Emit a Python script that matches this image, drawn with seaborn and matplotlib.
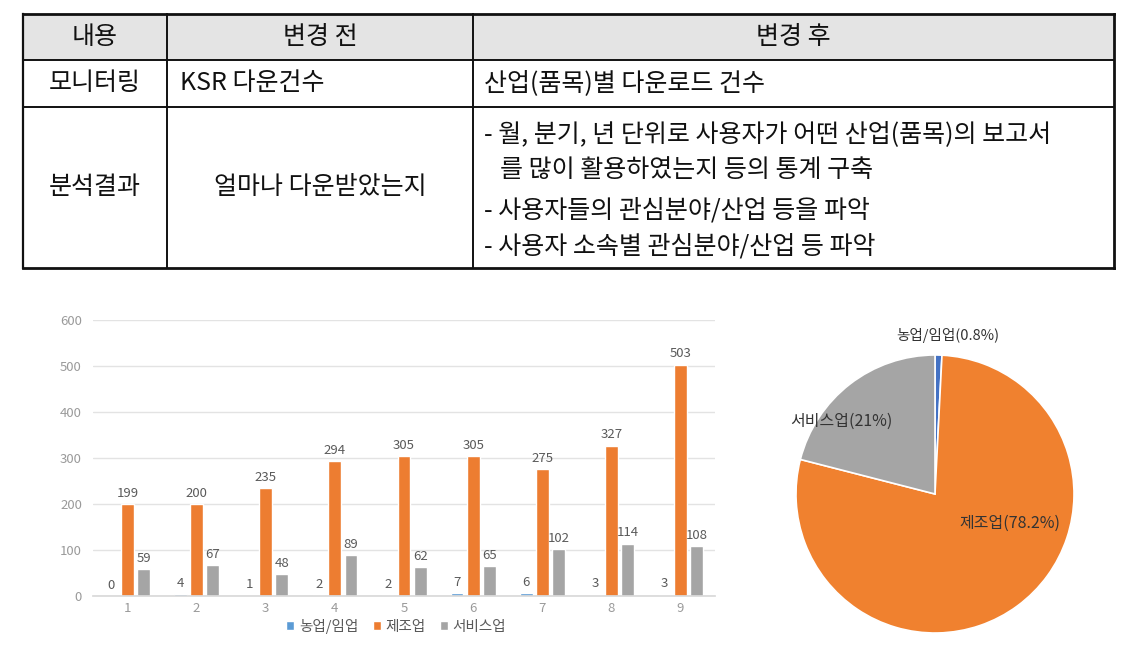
import matplotlib
matplotlib.use('Agg')
import matplotlib.pyplot as plt
import seaborn as sns
import pandas as pd

# ---------------- data ----------------
periods = ['1', '2', '3', '4', '5', '6', '7', '8', '9']
industries = ['농업/임업', '제조업', '서비스업']
agri = [0, 4, 1, 2, 2, 7, 6, 3, 3]
manuf = [199, 200, 235, 294, 305, 305, 275, 327, 503]
serv = [59, 67, 48, 89, 62, 65, 102, 114, 108]

pie_names = ['농업/임업', '제조업', '서비스업']
pie_shares = [0.8, 78.2, 21.0]
pie_texts = ['농업/임업(0.8%)', '제조업(78.2%)', '서비스업(21%)']

table_header = ['내용', '변경 전', '변경 후']
row1 = ['모니터링', 'KSR 다운건수', '산업(품목)별 다운로드 건수']
row2_label = '분석결과'
row2_before = '얼마나 다운받았는지'
row2_after = ['- 월, 분기, 년 단위로 사용자가 어떤 산업(품목)의 보고서',
              '를 많이 활용하였는지 등의 통계 구축',
              '- 사용자들의 관심분야/산업 등을 파악',
              '- 사용자 소속별 관심분야/산업 등 파악']

bar_colors = ['#5B9BD5', '#ED7D31', '#A5A5A5']
pie_colors = ['#4472C4', '#F0812F', '#A5A5A5']

sns.set_theme(style='white')
FONT = ['Noto Sans CJK KR', 'DejaVu Sans']
plt.rcParams['font.family'] = FONT

W, H = 1124, 647
fig = plt.figure(figsize=(W / 100, H / 100), dpi=100)
fig.patch.set_facecolor('white')

# ---------------- table (pixel coordinates) ----------------
tax = fig.add_axes([0, 0, 1, 1])
tax.set_xlim(0, W)
tax.set_ylim(H, 0)
tax.axis('off')

xL, xC1, xC2, xR = 23, 167, 473, 1114
yT, yR1, yR2, yB = 14, 60, 107, 268
tax.add_patch(plt.Rectangle((xL, yT), xR - xL, yR1 - yT, facecolor='#e4e4e4',
                            edgecolor='none', zorder=0))
lc = '#111111'
for y, lw in [(yT, 2.0), (yR1, 1.4), (yR2, 1.4), (yB, 2.0)]:
    tax.plot([xL, xR], [y, y], color=lc, lw=lw, solid_capstyle='projecting')
for x, lw in [(xL, 1.6), (xC1, 1.4), (xC2, 1.4), (xR, 2.0)]:
    tax.plot([x, x], [yT, yB], color=lc, lw=lw, solid_capstyle='projecting')

tfs = 18
tcol = '#111111'
hy = (yT + yR1) / 2
tax.text((xL + xC1) / 2, hy, table_header[0], ha='center', va='center', fontsize=tfs, color=tcol)
tax.text((xC1 + xC2) / 2, hy, table_header[1], ha='center', va='center', fontsize=tfs, color=tcol)
tax.text((xC2 + xR) / 2, hy, table_header[2], ha='center', va='center', fontsize=tfs, color=tcol)
r1y = (yR1 + yR2) / 2
tax.text((xL + xC1) / 2, r1y, row1[0], ha='center', va='center', fontsize=tfs, color=tcol)
tax.text(180, r1y, row1[1], ha='left', va='center', fontsize=tfs, color=tcol)
tax.text(484, r1y, row1[2], ha='left', va='center', fontsize=tfs, color=tcol)
r2y = (yR2 + yB) / 2
tax.text((xL + xC1) / 2, r2y, row2_label, ha='center', va='center', fontsize=tfs, color=tcol)
tax.text((xC1 + xC2) / 2, r2y, row2_before, ha='center', va='center', fontsize=tfs, color=tcol)
line_y = [134, 170, 210, 247]
line_x = [484, 500, 484, 484]
for txt, yy, xx in zip(row2_after, line_y, line_x):
    tax.text(xx, yy, txt, ha='left', va='center', fontsize=tfs, color=tcol)

# ---------------- bar chart ----------------
df = pd.DataFrame({
    'period': periods * 3,
    'industry': [industries[0]] * 9 + [industries[1]] * 9 + [industries[2]] * 9,
    'count': agri + manuf + serv,
})
bx0, bx1, by0, by1 = 93, 715, 596, 320
bax = fig.add_axes([bx0 / W, (H - by0) / H, (bx1 - bx0) / W, (by0 - by1) / H])
sns.barplot(data=df, x='period', y='count', hue='industry', hue_order=industries,
            order=periods, palette=bar_colors, width=0.7, gap=0.2, ax=bax,
            saturation=1, legend=True, errorbar=None)
bax.set_ylim(0, 600)
bax.set_xlim(-0.5, 8.5)
bax.set_yticks([0, 100, 200, 300, 400, 500, 600])
bax.grid(axis='y', color='#e3e3e3', lw=1)
bax.set_axisbelow(True)
for s in ['top', 'right', 'left']:
    bax.spines[s].set_visible(False)
bax.spines['bottom'].set_color('#d9d9d9')
bax.set_xlabel('')
bax.set_ylabel('')
bax.tick_params(axis='both', length=0, labelsize=9.5, labelcolor='#9a9a9a')
bax.tick_params(axis='y', pad=8)
bax.tick_params(axis='x', pad=4)
for cont in bax.containers:
    bax.bar_label(cont, fontsize=9.5, color='#5a5a5a', padding=3)
handles, labels = bax.get_legend_handles_labels()
bax.legend_.remove()
fig.legend(handles, labels, loc='center', bbox_to_anchor=(396 / W, (H - 626) / H),
           ncol=3, frameon=False, fontsize=10.5, handlelength=0.55, handleheight=0.55,
           handletextpad=0.3, columnspacing=1.0, labelcolor='#595959')

# ---------------- pie chart ----------------
cx, cy, r = 935, 494, 139
pax = fig.add_axes([(cx - r) / W, (H - cy - r) / H, 2 * r / W, 2 * r / H])
pax.pie(pie_shares, colors=pie_colors, startangle=90, counterclock=False,
        wedgeprops=dict(edgecolor='white', linewidth=1.2))
pax.set_xlim(-1, 1)
pax.set_ylim(-1, 1)
pax.set_aspect('equal')
label_pos = [(0.09, 1.14, 10.5), (0.54, -0.21, 11.5), (-0.67, 0.52, 11.5)]
for txt, (lx, ly, fs) in zip(pie_texts, label_pos):
    pax.text(lx, ly, txt, ha='center', va='center', fontsize=fs, color='#333333',
             clip_on=False)

fig.savefig('out.png', dpi=100, facecolor='white')
